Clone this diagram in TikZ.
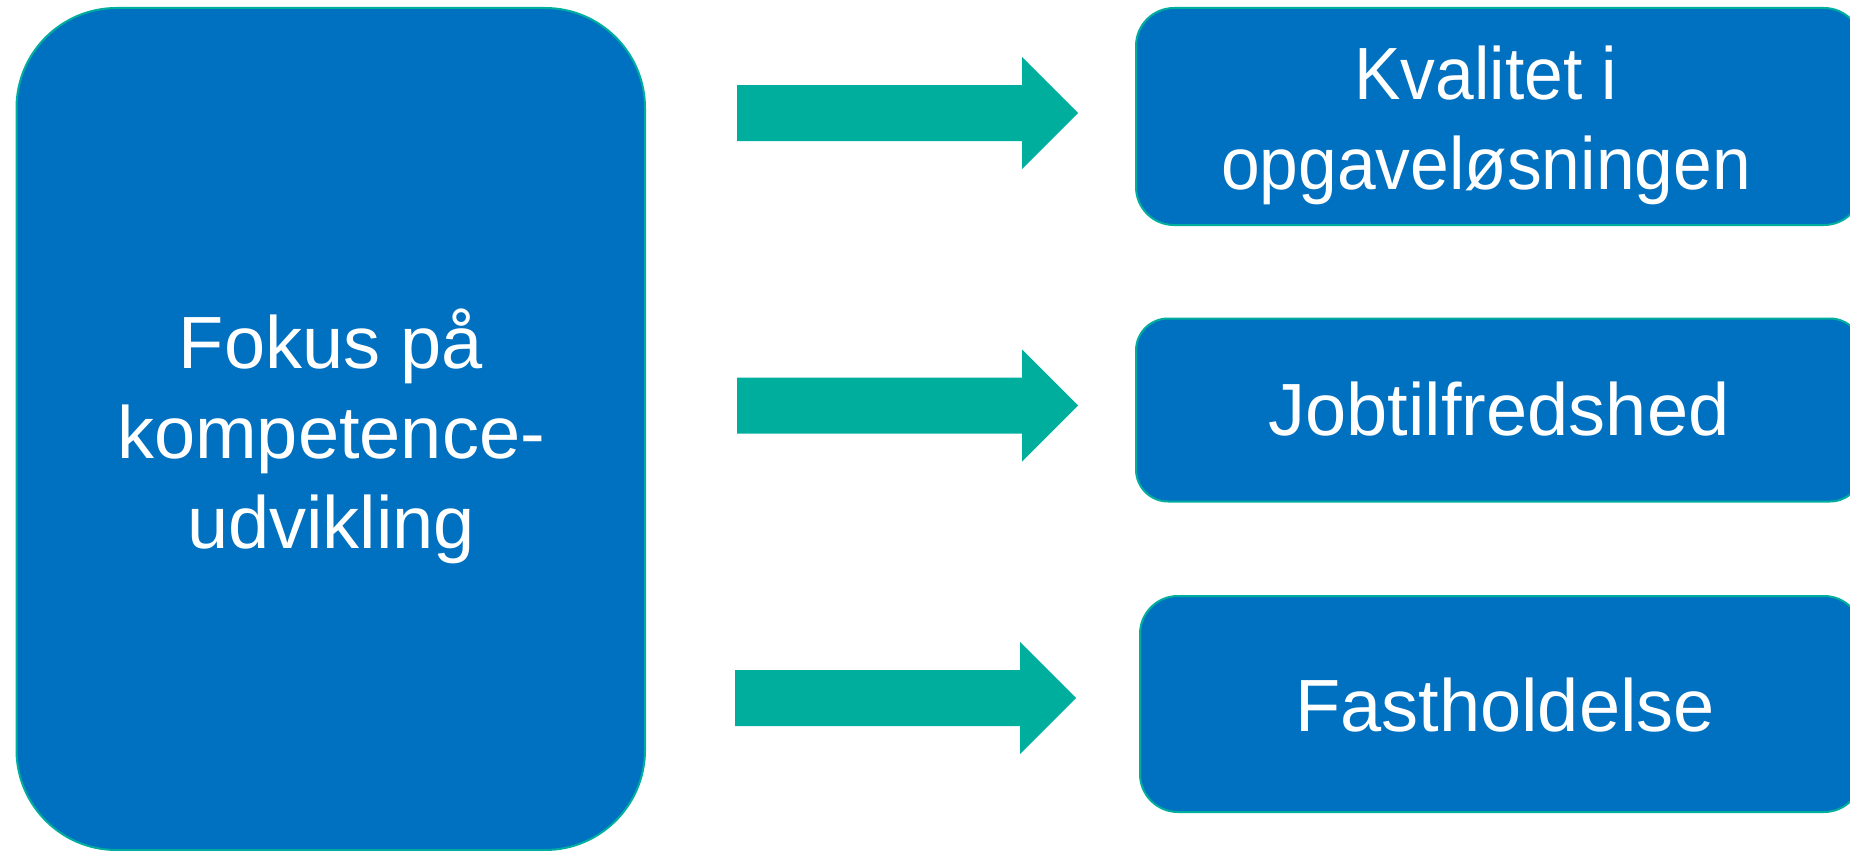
\documentclass[tikz,border=0pt]{standalone}
\usepackage{fontspec}
\setmainfont{Liberation Sans}
\newfontfamily\narrowfont{Liberation Sans}[FakeStretch=0.94]
\definecolor{boxblue}{RGB}{0,112,192}
\definecolor{tealc}{RGB}{0,174,158}
\begin{document}
\begin{tikzpicture}[x=1pt,y=-1pt,
  boxstyle/.style={draw=tealc, line width=2pt, fill=boxblue},
  lbl/.style={text=white, font=\fontsize{74}{90}\selectfont, align=center, inner sep=0pt},
  blockarrow/.pic={\fill[tealc] (0,-28) -- (285,-28) -- (285,-56) -- (341,0) -- (285,56) -- (285,28) -- (0,28) -- cycle;}]
\useasboundingbox (0,0) rectangle (1850,851);
\clip (0,0) rectangle (1850,851);
% boxes
\draw[boxstyle, rounded corners=100pt] (16.5,8) rectangle (645,850);
\draw[boxstyle, rounded corners=38pt] (1136,8) rectangle (1862,225);
\draw[boxstyle, rounded corners=32pt] (1136,318.5) rectangle (1862,501.5);
\draw[boxstyle, rounded corners=38pt] (1140,596) rectangle (1862,812);
% arrows
\pic at (737,113) {blockarrow};
\pic at (737,405.5) {blockarrow};
\pic at (735,698) {blockarrow};
% labels
\node[lbl] (t0) at (331,436) {Fokus på\\kompetence-\\udvikling};
\node[lbl, font=\narrowfont\fontsize{74}{90}\selectfont] (t1) at (1486,125) {Kvalitet i\\opgaveløsningen};
\node[lbl, anchor=base] (t2) at (1499,435) {Jobtilfredshed};
\node[lbl, anchor=base] (t3) at (1505,731) {Fastholdelse};
\end{tikzpicture}
\end{document}
